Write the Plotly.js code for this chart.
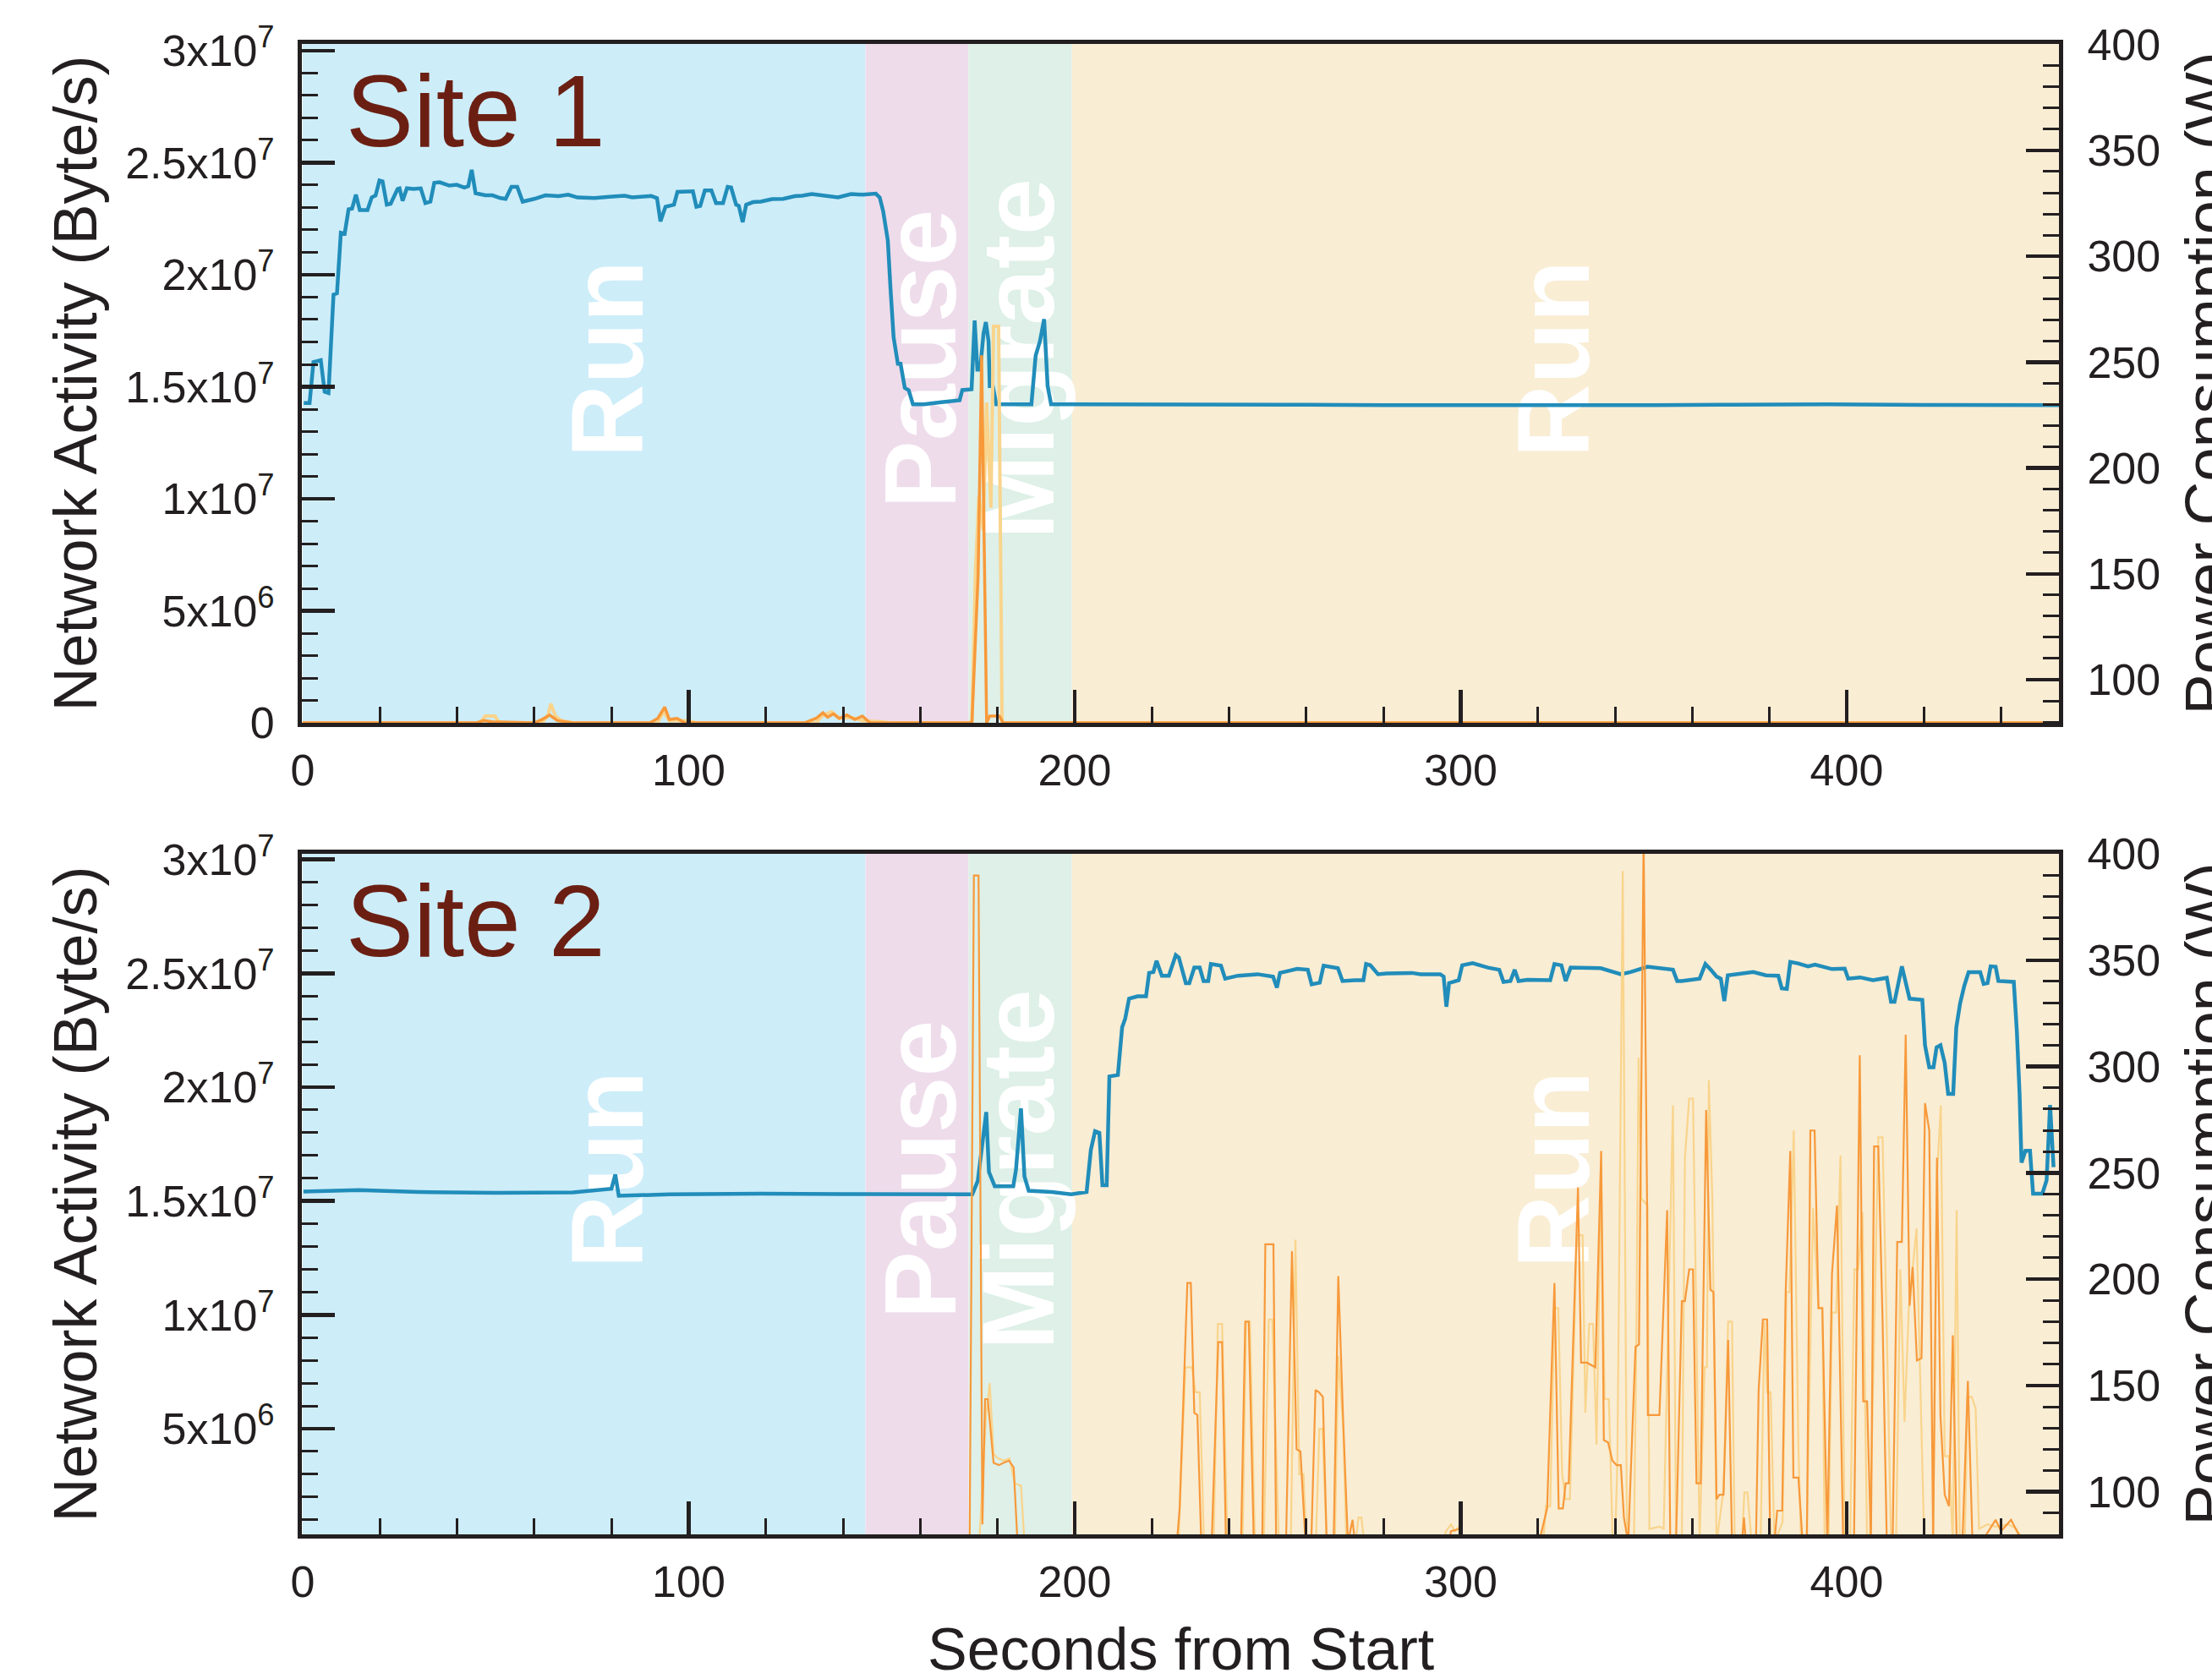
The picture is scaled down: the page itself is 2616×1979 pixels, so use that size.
<!DOCTYPE html>
<html>
<head>
<meta charset="utf-8">
<script src="https://cdn.plot.ly/plotly-3.0.1.min.js"></script>
<style>html,body{margin:0;padding:0;background:#fff;}#chart{width:2616px;height:1979px;}</style>
</head>
<body>
<div id="chart"></div>
<script>
// ---------------- DATA ----------------
const phaseNames = ['Run', 'Pause', 'Migrate', 'Run'];
const phaseStart = [0, 145.8, 172.5, 199.3];
const phaseEnd = [145.8, 172.5, 199.3, 455];

const xTickVals = [0, 100, 200, 300, 400];
const netTickVals = [0, 5e6, 1e7, 1.5e7, 2e7, 2.5e7, 3e7];
const netTickText = ['0', '5x10<sup>6</sup>', '1x10<sup>7</sup>', '1.5x10<sup>7</sup>', '2x10<sup>7</sup>', '2.5x10<sup>7</sup>', '3x10<sup>7</sup>'];
const powerTickVals = [100, 150, 200, 250, 300, 350, 400];
const siteNames = ['Site 1', 'Site 2'];

// Site 1 power consumption (W) : [seconds, watts]
const site1Power = [[0.3,230.7],[1.8,230.7],[2.8,250.0],[4.7,250.9],[5.7,236.0],[6.7,235.4],[8.0,281.9],[8.9,282.5],[9.9,311.1],[10.9,310.7],[11.9,322.2],[12.8,322.5],[13.8,329.1],[14.8,321.8],[16.8,321.8],[17.9,327.8],[18.9,328.7],[19.9,335.8],[20.7,335.4],[21.8,324.4],[22.8,324.8],[24.6,331.8],[25.1,332.1],[25.9,326.2],[27.0,332.1],[28.7,331.8],[30.6,332.1],[31.8,325.1],[33.1,325.8],[34.1,334.7],[35.5,335.0],[38.0,333.4],[39.9,333.8],[41.9,332.5],[42.9,333.1],[43.8,340.8],[44.8,329.8],[47.3,328.8],[49.2,328.8],[51.2,327.5],[52.6,327.1],[54.1,332.8],[55.6,332.8],[57.0,325.8],[60.0,327.1],[62.9,328.8],[66.3,328.4],[68.8,329.1],[71.2,327.8],[75.6,327.5],[79.5,328.1],[83.4,328.6],[85.4,327.8],[90.3,328.5],[91.8,327.5],[92.7,316.5],[94.0,323.4],[96.2,324.4],[97.1,330.4],[100.1,330.7],[101.1,330.7],[102.0,323.4],[103.0,323.8],[104.2,331.1],[105.9,331.1],[107.1,325.1],[108.9,325.1],[110.1,332.8],[111.0,332.5],[112.3,324.4],[113.0,323.8],[114.0,316.1],[114.9,324.4],[116.7,325.6],[118.7,325.8],[121.6,327.0],[124.5,327.1],[127.5,328.4],[129.4,328.6],[131.9,329.4],[134.3,328.8],[136.3,328.1],[138.7,327.8],[142.1,329.4],[145.1,329.1],[148.5,329.6],[149.5,327.8],[150.4,321.2],[150.9,315.2],[151.6,307.5],[152.3,284.6],[153.1,261.7],[154.2,249.2],[154.9,249.2],[156.0,237.8],[157.0,236.8],[158.1,230.1],[161.0,230.1],[165.5,231.1],[169.1,232.0],[170.2,232.0],[170.9,236.8],[172.8,236.8],[173.3,237.2],[174.1,269.7],[174.8,246.4],[175.5,246.4],[176.4,263.6],[177.0,268.9],[177.7,259.8],[178.0,238.7],[178.8,238.7],[179.7,230.1],[180.8,230.1],[188.8,230.1],[189.9,253.1],[191.0,259.8],[192.1,270.3],[193.0,238.7],[193.9,230.1],[199.0,230.1],[210,230.3],[230,230.0],[260,229.9],[280,229.7],[300,229.6],[320,229.8],[350,229.7],[370,229.9],[395,230.1],[420,229.8],[440,229.9],[455,229.7]];

// Site 1 network activity (Byte/s), dark series : [seconds, bytes/s]
const site1NetA = [[0,0],[45,0],[47,0.1e6],[49,0.05e6],[60,0],[62,0.15e6],[64,0.35e6],[66,0.1e6],[70,0],[90,0],[92,0.2e6],[93.8,0.7e6],[95,0.15e6],[97,0.2e6],[99,0],[130,0],[133,0.2e6],[134.8,0.45e6],[136,0.25e6],[137.5,0.4e6],[139,0.2e6],[141,0.35e6],[143,0.15e6],[145,0.3e6],[147,0],[172.8,0],[173.4,0.05e6],[175.0,6.6e6],[175.9,16.4e6],[177.2,0],[178,0.3e6],[180.5,0.3e6],[181.5,0],[455,0]];
// Site 1 network activity, light series
const site1NetB = [[0,0],[46,0],[47.3,0.3e6],[49.8,0.3e6],[51,0],[62,0],[63.5,0.3e6],[64.3,0.85e6],[65.5,0.3e6],[67,0.1e6],[70,0],[92,0],[93.5,0.5e6],[95,0.1e6],[100,0.1e6],[102,0],[133,0],[134.5,0.3e6],[137,0.5e6],[139,0.2e6],[142,0.25e6],[145,0.1e6],[150,0.05e6],[152,0],[172.8,0],[173.4,0.1e6],[174.3,6.7e6],[175.2,10.1e6],[176.3,8.6e6],[177.2,14.3e6],[178.3,9.6e6],[179.0,17.7e6],[180.3,17.7e6],[181.2,0],[455,0]];

// Site 2 power consumption (W)
const site2Power = [[0.2,241.2],[14.6,241.9],[30,241.0],[50,240.6],[70.0,240.8],[80.0,242.5],[81.0,249.2],[81.9,239.2],[95.1,239.9],[118.7,240.2],[140,240.0],[162.5,239.9],[173.5,239.9],[174.9,246.2],[177.1,278.6],[177.8,250.4],[179.3,243.7],[184.1,243.7],[184.8,251.4],[186.1,280.3],[187.0,248.3],[188.1,241.6],[194.0,241.0],[199.1,239.9],[203.1,241.0],[204.2,260.8],[205.3,269.6],[206.4,268.8],[207.2,244.2],[208.3,244.2],[209.0,295.3],[211.2,296.0],[212.3,318.4],[213.1,322.5],[214.1,331.9],[216.3,333.0],[218.5,333.0],[219.3,344.0],[220.4,344.4],[221.2,349.7],[222.6,342.7],[224.4,342.7],[226.2,352.4],[227.0,351.2],[228.8,339.2],[229.7,339.2],[231.0,346.5],[232.4,346.5],[233.4,340.2],[234.6,340.2],[235.3,348.2],[237.9,347.4],[239.0,341.3],[242.3,342.7],[247.4,343.4],[251.4,342.3],[252.4,337.1],[253.2,344.0],[255.4,344.9],[257.6,345.9],[260.4,345.5],[261.4,338.6],[263.5,339.4],[264.5,347.4],[268.2,346.2],[269.4,340.2],[272.6,340.6],[274.8,340.6],[275.5,348.2],[276.6,347.6],[278.6,343.4],[280.8,343.8],[287.4,344.0],[289.6,343.4],[294.7,343.4],[295.6,342.3],[296.3,328.1],[297.0,339.2],[299.5,340.6],[300.4,347.6],[303.1,348.6],[307.1,346.5],[310.0,345.5],[311.1,339.8],[312.9,340.2],[314.0,345.5],[315.0,340.2],[317.3,340.8],[323.2,340.6],[324.3,348.2],[326.1,347.6],[327.2,340.2],[328.5,346.5],[336.3,346.2],[341.5,343.4],[344.0,344.4],[348.4,346.9],[355.0,345.5],[356.1,340.2],[357.2,340.2],[361.9,341.3],[363.4,348.2],[364.8,345.5],[366.3,342.3],[367.4,341.3],[368.3,330.8],[369.2,342.9],[373.6,343.8],[375.8,344.4],[379.1,342.9],[382.3,342.7],[383.2,336.7],[384.5,336.5],[385.4,349.2],[387.4,348.5],[390.0,347.1],[391.8,347.9],[396.2,345.8],[399.5,346.0],[400.4,341.3],[403.5,341.9],[406.8,340.6],[410.4,341.7],[411.5,330.4],[412.4,330.4],[414.3,347.1],[416.3,331.9],[419.6,331.3],[420.3,310.0],[421.4,299.6],[422.5,299.6],[423.3,309.0],[424.3,310.0],[425.4,301.7],[426.3,287.1],[427.6,287.1],[428.4,318.3],[429.4,329.8],[430.5,338.1],[431.6,344.4],[434.6,344.4],[435.5,338.8],[436.5,339.2],[437.3,347.1],[438.6,346.9],[439.3,340.2],[443.3,339.8],[444.1,316.3],[444.8,287.1],[445.3,254.8],[446.3,260.4],[447.5,260.4],[448.3,240.2],[450.7,240.2],[451.8,246.5],[452.7,281.9],[453.6,252.7]];

// Site 2 network activity, dark series
const site2NetA = [[0,0],[172.8,0],[173.9,29.3e6],[175.1,29.3e6],[176.1,0.8e6],[176.8,6.3e6],[177.5,6.3e6],[179.0,3.5e6],[180.4,3.4e6],[181.5,3.5e6],[183.0,3.6e6],[184.2,3.3e6],[185.2,0],[226.5,0],[227.2,1.5e6],[229.2,11.4e6],[230.1,11.4e6],[231.0,5.7e6],[231.8,5.6e6],[232.8,0],[235.5,0],[237.2,8.8e6],[238.2,8.8e6],[239.2,0],[243.1,0],[244.2,9.7e6],[245.1,9.7e6],[246.4,0],[248.6,0],[249.4,13.1e6],[251.5,13.1e6],[252.2,0],[254.8,0.3e6],[256.3,12.8e6],[257.5,4.1e6],[258.5,4.0e6],[259.8,0],[261.3,0],[262.4,6.7e6],[263.3,6.6e6],[264.3,6.4e6],[265.3,0],[267.1,0],[268.3,11.7e6],[269.6,5.2e6],[270.8,0],[272.0,1.0e6],[272.6,0],[296.9,0],[297.5,0.5e6],[299.8,0.6e6],[300.5,0],[320.3,0],[322.4,1.5e6],[324.3,11.4e6],[325.4,1.5e6],[326.5,1.5e6],[327.2,2.6e6],[328.0,2.6e6],[330.4,15.6e6],[331.2,7.9e6],[332.7,7.9e6],[334.9,7.7e6],[336.4,17.2e6],[337.1,4.5e6],[338.2,4.4e6],[339.3,3.6e6],[340.4,3.4e6],[341.5,3.4e6],[342.3,1.1e6],[343.4,0],[345.3,8.6e6],[346.2,8.7e6],[347.4,31.0e6],[348.3,14.9e6],[348.5,5.6e6],[351.5,5.6e6],[353.5,14.6e6],[354.3,0],[355.8,0],[357.3,10.6e6],[358.1,10.6e6],[359.2,12.0e6],[360.2,12.0e6],[361.1,2.6e6],[362.2,2.6e6],[363.6,19.0e6],[364.7,11.1e6],[365.5,11.0e6],[366.3,1.9e6],[367.0,2.1e6],[368.1,2.1e6],[369.3,8.9e6],[370.3,0],[372.9,0],[373.4,1.1e6],[373.9,0],[376.5,0],[377.2,6.7e6],[378.3,9.8e6],[379.4,9.8e6],[380.2,0],[381.3,0],[382.0,1.4e6],[383.3,1.4e6],[384.2,11.0e6],[385.4,17.2e6],[386.2,2.85e6],[387.5,2.85e6],[388.6,0],[389.7,0],[390.6,18.1e6],[391.7,18.1e6],[392.7,10.3e6],[393.7,10.3e6],[395.0,0],[396.2,11.8e6],[397.5,14.8e6],[399.1,0],[401.9,0],[403.4,21.4e6],[404.3,6.2e6],[405.3,6.2e6],[406.3,0],[407.1,17.4e6],[408.2,17.4e6],[409.3,9.8e6],[410.4,0],[411.9,0],[413.1,13.2e6],[414.3,13.2e6],[415.3,22.3e6],[416.3,10.4e6],[417.1,12.1e6],[418.2,8.0e6],[419.4,8.1e6],[420.3,19.3e6],[421.4,18.1e6],[422.4,0],[423.4,16.9e6],[424.3,5.6e6],[425.4,2.1e6],[426.5,1.6e6],[427.5,9.1e6],[428.5,0],[430.0,0],[431.4,7.1e6],[432.6,0],[434.6,0.2e6],[436,0.3e6],[438.6,1.0e6],[440,0.5e6],[442.6,1.0e6],[444.4,0.4e6],[446,0],[455,0]];

// Site 2 network activity, light series
const site2NetB = [[0,0],[175.3,0],[177.0,5.5e6],[178.0,7.0e6],[179.0,3.9e6],[180.1,3.7e6],[181.7,3.6e6],[183.1,3.7e6],[184.5,2.6e6],[186.1,2.5e6],[187.0,0],[226.9,0],[228.7,7.7e6],[230.4,7.7e6],[231.3,6.6e6],[232.4,6.6e6],[233.5,0],[236.0,0],[237.1,9.6e6],[238.2,9.6e6],[239.6,0],[243.5,0],[244.4,9.7e6],[245.4,9.7e6],[246.7,0],[249.0,0],[250.3,9.8e6],[251.2,9.8e6],[252.9,0],[256.0,0],[257.2,13.3e6],[258.2,3.0e6],[259.3,3.0e6],[260.0,0],[262.5,0],[263.4,5.0e6],[264.2,5.0e6],[265.3,0],[267.4,0],[268.3,8.2e6],[269.6,5.0e6],[270.4,0],[272.8,0],[273.5,1.1e6],[274.3,1.1e6],[275.0,0],[295.5,0],[296.2,0.5e6],[297.5,0.8e6],[298.5,0.5e6],[299.5,0.7e6],[300.5,0],[321.4,0],[322.1,1.6e6],[323.2,1.6e6],[324.3,10.3e6],[325.3,10.3e6],[326.3,3.0e6],[327.2,1.9e6],[328.3,1.9e6],[330.1,13.5e6],[331.6,13.5e6],[332.3,5.7e6],[333.3,9.6e6],[334.3,9.6e6],[335.2,4.3e6],[336.4,16.4e6],[337.3,6.3e6],[338.4,6.3e6],[339.4,0],[340.0,0],[340.6,3.5e6],[342.0,29.5e6],[343.1,0],[344.9,0],[345.5,8.7e6],[346.1,21.3e6],[346.8,15.1e6],[347.4,15.0e6],[348.4,14.8e6],[348.9,0.6e6],[351.5,0.7e6],[352.6,0.6e6],[355.0,19.2e6],[355.8,0],[357.3,0],[358.1,16.9e6],[359.2,19.5e6],[360.2,19.5e6],[361.1,9.3e6],[361.9,0],[363.2,7.7e6],[363.8,7.7e6],[364.3,20.3e6],[365.2,15.1e6],[366.3,0],[368.1,2.3e6],[369.3,9.7e6],[370.3,9.7e6],[371.0,0],[372.9,0],[373.5,2.2e6],[374.3,2.2e6],[375.4,0],[377.7,0],[378.7,9.7e6],[379.4,6.6e6],[380.3,6.6e6],[381.3,0],[383.4,0.9e6],[384.4,11.0e6],[385.2,11.0e6],[386.3,18.1e6],[387.5,4.2e6],[388.2,0],[389.6,0],[391.3,14.7e6],[392.7,10.3e6],[393.7,10.3e6],[394.3,0],[395.3,0],[396.2,10.1e6],[397.3,10.1e6],[398.4,17.0e6],[399.5,0],[400.9,0],[402.0,12.0e6],[403.0,12.0e6],[404.1,14.5e6],[405.3,0],[406.0,0],[408.2,17.8e6],[409.3,17.8e6],[410.4,9.3e6],[411.5,0],[412.8,0],[413.9,12.0e6],[415.0,5.3e6],[416.1,10.3e6],[418.1,13.8e6],[419.0,7.7e6],[420.1,0],[422.4,0],[423.4,16.1e6],[424.4,19.2e6],[425.4,3.8e6],[426.5,3.8e6],[427.5,0],[428.5,14.6e6],[429.3,0],[430.6,0],[431.3,6.4e6],[432.4,6.4e6],[433.4,5.9e6],[434.3,0.6e6],[436.5,0.8e6],[438.5,0.7e6],[441.9,0.8e6],[444.0,0.6e6],[446.0,0],[455,0]];

// ---------------- STYLE ----------------
const FONT = 'Liberation Sans, Arial, Helvetica, sans-serif';
const AX = '#231F20';
const BLUE = '#218DBA';
const DARK_OR = '#F7993A';
const LIGHT_OR = '#F9D48C';
const phaseFill = ['#CDEDF9', '#EEDCEB', '#DEF0E8', '#F9EDD4'];
const phaseLabelX = [76.5, 157.5, 183.0, 321.6];
const phaseLabelY = 0.536;

const col = (arr, i) => arr.map(p => p[i]);

function xAxis(anchor) {
  return {
    anchor: anchor, domain: [0, 1], range: [-0.2, 455],
    showline: true, linecolor: AX, linewidth: 5, mirror: true,
    ticks: 'inside', ticklen: 39, tickwidth: 4.5, tickcolor: AX,
    tickmode: 'array', tickvals: xTickVals, ticktext: xTickVals.map(String),
    minor: { ticks: 'inside', ticklen: 19, tickwidth: 3, tickcolor: AX, tickmode: 'linear', tick0: 0, dtick: 20 },
    tickfont: { family: FONT, size: 52, color: AX }, ticklabelstandoff: 7,
    showgrid: false, zeroline: false, automargin: false
  };
}
function netAxis(overlay, anchor, range) {
  return {
    overlaying: overlay, anchor: anchor, side: 'left', range: range,
    showline: true, linecolor: AX, linewidth: 5,
    ticks: 'inside', ticklen: 39, tickwidth: 4.5, tickcolor: AX,
    tickmode: 'array', tickvals: netTickVals, ticktext: netTickText,
    minor: { ticks: 'inside', ticklen: 19, tickwidth: 3, tickcolor: AX, tickmode: 'linear', tick0: 0, dtick: 1e6 },
    tickfont: { family: FONT, size: 52, color: AX }, ticklabelstandoff: 17,
    showgrid: false, zeroline: false, automargin: false,
    title: { text: 'Network Activity (Byte/s)', font: { family: FONT, size: 72, color: AX }, standoff: 12 }
  };
}
function powerAxis(domain, anchor, range) {
  return {
    domain: domain, anchor: anchor, side: 'right', range: range,
    showline: true, linecolor: AX, linewidth: 5,
    ticks: 'inside', ticklen: 39, tickwidth: 4.5, tickcolor: AX,
    tickmode: 'array', tickvals: powerTickVals, ticktext: powerTickVals.map(String),
    minor: { ticks: 'inside', ticklen: 19, tickwidth: 3, tickcolor: AX, tickmode: 'linear', tick0: 0, dtick: 10 },
    tickfont: { family: FONT, size: 52, color: AX }, ticklabelstandoff: 18,
    showgrid: false, zeroline: false, automargin: false
  };
}

const traces = [
  { x: col(site1Power, 0), y: col(site1Power, 1), xaxis: 'x', yaxis: 'y', mode: 'lines', line: { color: BLUE, width: 4.5 } },
  { x: col(site1NetB, 0), y: col(site1NetB, 1), xaxis: 'x', yaxis: 'y2', mode: 'lines', line: { color: LIGHT_OR, width: 4 } },
  { x: col(site1NetA, 0), y: col(site1NetA, 1), xaxis: 'x', yaxis: 'y2', mode: 'lines', line: { color: DARK_OR, width: 3.5 } },
  { x: col(site2Power, 0), y: col(site2Power, 1), xaxis: 'x2', yaxis: 'y3', mode: 'lines', line: { color: BLUE, width: 4.5 } },
  { x: col(site2NetB, 0), y: col(site2NetB, 1), xaxis: 'x2', yaxis: 'y4', mode: 'lines', line: { color: LIGHT_OR, width: 2.2 } },
  { x: col(site2NetA, 0), y: col(site2NetA, 1), xaxis: 'x2', yaxis: 'y4', mode: 'lines', line: { color: DARK_OR, width: 2.2 } }
];

const shapes = [];
[['x', 'y'], ['x2', 'y3']].forEach(([xr, yr]) => {
  phaseNames.forEach((name, i) => {
    shapes.push({ type: 'rect', layer: 'below', xref: xr, yref: yr + ' domain',
      x0: phaseStart[i], x1: phaseEnd[i], y0: 0, y1: 1, fillcolor: phaseFill[i], line: { width: 0 } });
  });
  phaseNames.forEach((name, i) => {
    shapes.push({ type: 'rect', layer: 'below', xref: xr, yref: yr + ' domain',
      x0: phaseLabelX[i] - 4, x1: phaseLabelX[i] + 4, y0: phaseLabelY - 0.05, y1: phaseLabelY + 0.05,
      fillcolor: 'rgba(0,0,0,0)', line: { width: 0 },
      label: { text: '<b>' + name + '</b>', textangle: -90, textposition: 'middle center', padding: 0,
        font: { family: FONT, size: 120, color: '#FFFFFF' } } });
  });
});

const annotations = [
  { text: siteNames[0], xref: 'x domain', yref: 'y domain', x: 0.0241, y: 0.9016, xanchor: 'left', yanchor: 'middle',
    showarrow: false, font: { family: FONT, size: 120, color: '#6B1F13' } },
  { text: siteNames[1], xref: 'x2 domain', yref: 'y3 domain', x: 0.0241, y: 0.9025, xanchor: 'left', yanchor: 'middle',
    showarrow: false, font: { family: FONT, size: 120, color: '#6B1F13' } },
  { text: 'Power Consumption (W)', xref: 'paper', yref: 'y domain', x: 1.0842, y: 0.5, xanchor: 'center', yanchor: 'middle',
    textangle: -90, showarrow: false, font: { family: FONT, size: 72, color: AX } },
  { text: 'Power Consumption (W)', xref: 'paper', yref: 'y3 domain', x: 1.0842, y: 0.5, xanchor: 'center', yanchor: 'middle',
    textangle: -90, showarrow: false, font: { family: FONT, size: 72, color: AX } },
  { text: 'Seconds from Start', xref: 'x2 domain', yref: 'paper', x: 0.5, y: -0.0771, xanchor: 'center', yanchor: 'middle',
    showarrow: false, font: { family: FONT, size: 70, color: AX } }
];

const layout = {
  width: 2616, height: 1979,
  margin: { l: 357, r: 181, t: 52, b: 164, pad: 0 },
  paper_bgcolor: '#FFFFFF', plot_bgcolor: '#FFFFFF', showlegend: false,
  font: { family: FONT, color: AX },
  xaxis: xAxis('y'),
  xaxis2: xAxis('y3'),
  yaxis: powerAxis([0.5445, 1], 'x', [79.6, 400.3]),
  yaxis2: netAxis('y', 'x', [0, 3.03e7]),
  yaxis3: powerAxis([0, 0.4566], 'x2', [80, 400]),
  yaxis4: netAxis('y3', 'x2', [0.36e6, 3.025e7]),
  shapes: shapes,
  annotations: annotations
};

Plotly.newPlot('chart', traces, layout, { staticPlot: true, displayModeBar: false });
</script>
</body>
</html>
